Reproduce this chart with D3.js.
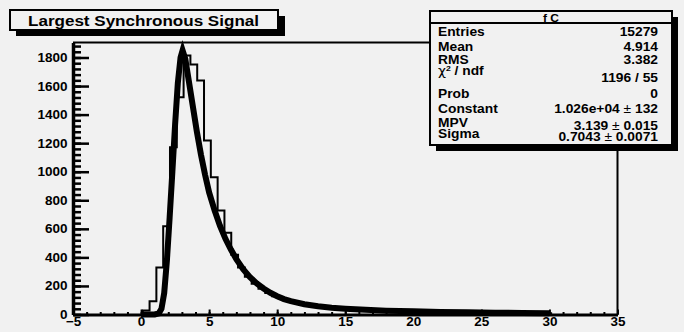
<!DOCTYPE html>
<html>
<head>
<meta charset="utf-8">
<script src="https://cdn.jsdelivr.net/npm/d3@7"></script>
<style>
body { margin: 0; background: #f1f1f1; }
#chart { width: 684px; height: 332px; }
text { font-family: "Liberation Sans", Arial, sans-serif; font-weight: bold; fill: #000; }
</style>
</head>
<body>
<div id="chart"></div>
<script>
// histogram, 0.5 wide bins, first bin starts at 0.125
var binStart = 0.125
var binWidth = 0.5
var counts = [28, 92, 330, 618, 1172, 1522, 1814, 1751, 1639, 1219,
    962, 728, 572, 418, 330, 265, 215, 180, 150, 128,
    108, 94, 82, 75, 67, 60, 55, 50, 46, 42,
    39, 36, 33, 31, 29, 27, 26, 24, 23, 22,
    21, 20, 19, 18, 17, 16, 16, 15, 14, 14,
    13, 13, 12, 12, 11, 11, 10, 10, 9, 9]

// landau fit curve
var fitX = [0, 1.0, 1.3, 1.5, 1.7, 1.9, 2.1, 2.3, 2.5, 2.7, 2.9, 3.05, 3.25, 3.5, 3.8, 4.1, 4.4, 4.7,
    5.0, 5.4, 5.8, 6.2, 6.6, 7.0, 7.5, 8.0, 8.5, 9.0, 9.5, 10, 10.5, 11, 12, 13, 14, 15,
    16.5, 18, 20, 22, 24, 26, 28, 30]
var fitY = [0, 0, 8, 40, 150, 380, 680, 1000, 1330, 1620, 1800, 1850, 1790, 1640, 1460, 1280, 1120, 980,
    855, 730, 620, 530, 455, 388, 318, 262, 218, 182, 152, 128, 108, 93, 72, 58, 48, 41,
    33, 27, 22, 18, 15, 13, 11, 9.5]

var xTicks = [-5, 0, 5, 10, 15, 20, 25, 30, 35]
var yTicks = [0, 200, 400, 600, 800, 1000, 1200, 1400, 1600, 1800]

var title = "Largest Synchronous Signal"
var statsTitle = "f C"
var statLabels = ["Entries", "Mean", "RMS", "χ2 / ndf", "Prob", "Constant", "MPV", "Sigma"]
var statValues = ["15279", "4.914", "3.382", "1196 / 55", "0", "1.026e+04 ± 132", "3.139 ± 0.015", "0.7043 ± 0.0071"]

// layout
var W = 684, H = 332
var frame = {left: 73, right: 617.5, top: 42.5, bottom: 314.5}
var labelY = [35.5, 50.5, 64, 75, 98, 112.5, 127, 137.5]
var valueY = [35.5, 50.5, 64, 82, 98, 112.5, 130, 141]
var bg = "#f1f1f1"

var svg, xScale, yScale

createChart()

function addText(g, x, y, str, size, sx, anchor)
{
    return g.append("text")
        .attr("transform", "translate(" + x + "," + y + ") scale(" + sx + ",1)")
        .attr("font-size", size)
        .attr("text-anchor", anchor || "start")
        .text(str)
}

function styleLabels(sel)
{
    sel.attr("font-size", 12.5)
        .attr("font-family", "Liberation Sans, Arial, sans-serif")
        .attr("font-weight", "bold")
        .attr("transform", "scale(1.08,1)")
}

function createChart()
{
    svg = d3.select("#chart")
        .append("svg")
        .attr("width", W)
        .attr("height", H)
        .style("display", "block")

    svg.append("rect")
        .attr("width", W)
        .attr("height", H)
        .attr("fill", bg)

    xScale = d3.scaleLinear()
        .domain([-5, 35])
        .range([frame.left, frame.right])
    yScale = d3.scaleLinear()
        .domain([0, 1905])
        .range([frame.bottom, frame.top])

    // frame top + right
    svg.append("path")
        .attr("d", "M" + frame.left + "," + frame.top + "H" + frame.right + "V" + frame.bottom)
        .attr("fill", "none")
        .attr("stroke", "#000")
        .attr("stroke-width", 2)

    // histogram outline
    var steps = [[binStart, 0]]
    counts.forEach(function(c, i) {
        var lo = binStart + i * binWidth
        steps.push([lo, c], [lo + binWidth, c])
    })
    steps.push([binStart + counts.length * binWidth, 0])

    var line = d3.line()
        .x(function(d) { return xScale(d[0]) })
        .y(function(d) { return yScale(d[1]) })

    svg.append("path")
        .datum(steps)
        .attr("d", line)
        .attr("fill", "none")
        .attr("stroke", "#000")
        .attr("stroke-width", 2)

    // fit
    svg.append("path")
        .datum(d3.zip(fitX, fitY))
        .attr("d", line)
        .attr("fill", "none")
        .attr("stroke", "#000")
        .attr("stroke-width", 6)
        .attr("stroke-linejoin", "miter")
        .attr("stroke-miterlimit", 10)

    // y axis
    var yMinor = svg.append("g")
        .attr("transform", "translate(" + frame.left + ",0)")
        .call(d3.axisLeft(yScale).tickValues(d3.range(0, 1905, 40)).tickSize(-8).tickFormat(""))
    yMinor.select(".domain").remove()
    yMinor.selectAll("line").attr("stroke-width", 2.5)

    var yAx = svg.append("g")
        .attr("transform", "translate(" + frame.left + ",0)")
        .call(d3.axisLeft(yScale).tickValues(yTicks).tickFormat(d3.format("d"))
            .tickSizeInner(-16).tickSizeOuter(0).tickPadding(5))
    yAx.select(".domain").attr("stroke-width", 3.5)
    yAx.selectAll("line").attr("stroke-width", 2.5)
    styleLabels(yAx.selectAll("text"))

    // x axis
    var xMinor = svg.append("g")
        .attr("transform", "translate(0," + frame.bottom + ")")
        .call(d3.axisBottom(xScale).tickValues(d3.range(-5, 36, 1)).tickSize(-2.5).tickFormat(""))
    xMinor.select(".domain").remove()
    xMinor.selectAll("line").attr("stroke-width", 2)

    var xAx = svg.append("g")
        .attr("transform", "translate(0," + frame.bottom + ")")
        .call(d3.axisBottom(xScale).tickValues(xTicks).tickFormat(d3.format("d"))
            .tickSizeInner(-5).tickSizeOuter(0).tickPadding(3))
    xAx.select(".domain").attr("stroke-width", 3)
    xAx.selectAll("line").attr("stroke-width", 2)
    styleLabels(xAx.selectAll("text"))

    // title box
    svg.append("rect")
        .attr("x", 16).attr("y", 16).attr("width", 269).attr("height", 20)
        .attr("fill", "#000")
    svg.append("rect")
        .attr("x", 10).attr("y", 10).attr("width", 268).attr("height", 20)
        .attr("fill", bg).attr("stroke", "#000").attr("stroke-width", 2)
    addText(svg, 28, 26, title, 15.5, 1.1)

    createStats()
}

function createStats()
{
    var bx = 430, by = 11, bw = 242, bh = 134
    svg.append("rect")
        .attr("x", bx + 6).attr("y", by + 6).attr("width", bw).attr("height", bh)
        .attr("fill", "#000")
    svg.append("rect")
        .attr("x", bx).attr("y", by).attr("width", bw).attr("height", bh)
        .attr("fill", bg).attr("stroke", "#000").attr("stroke-width", 2)
    svg.append("line")
        .attr("x1", bx).attr("x2", bx + bw).attr("y1", by + 12).attr("y2", by + 12)
        .attr("stroke", "#000").attr("stroke-width", 2)

    addText(svg, bx + bw / 2, 21.5, statsTitle, 10, 1.2, "middle")

    statLabels.forEach(function(s, i) {
        var t = addText(svg, 438, labelY[i], "", 12, 1.15)
        if (s.indexOf("χ2") == 0) {
            t.append("tspan").attr("font-weight", "normal").attr("font-family", "DejaVu Sans").text("χ")
            t.append("tspan").attr("font-size", 7.5).attr("dy", -4.5).text("2")
            t.append("tspan").attr("dy", 4.5).text(s.slice(2))
        }
        else t.text(s)
    })

    statValues.forEach(function(s, i) {
        var t = addText(svg, 658, valueY[i], "", 12, 1.15, "end")
        var parts = s.split("±")
        t.append("tspan").text(parts[0])
        if (parts.length > 1) {
            t.append("tspan").attr("font-weight", "normal").text("±")
            t.append("tspan").text(parts[1])
        }
    })
}
</script>
</body>
</html>
